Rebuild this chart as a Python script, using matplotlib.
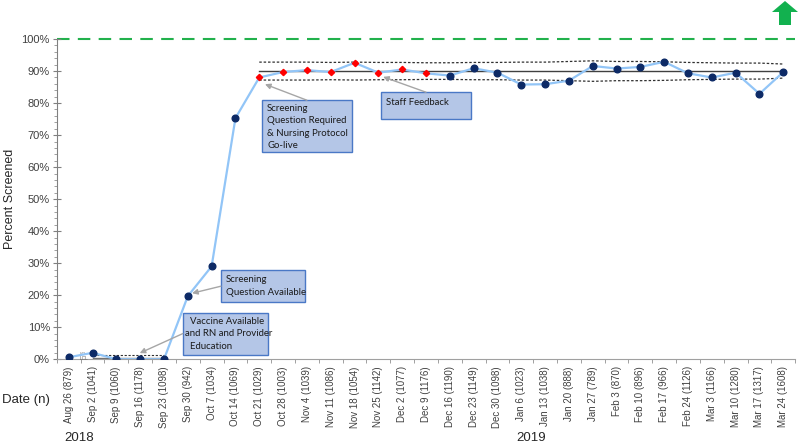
import numpy as np
import matplotlib
matplotlib.use("Agg")
import matplotlib.pyplot as plt
from matplotlib.patches import Rectangle, Polygon
from matplotlib.transforms import blended_transform_factory

plt.rcParams['font.family'] = ['Liberation Sans', 'DejaVu Sans']

# data
dates = ['Aug 26', 'Sep 2', 'Sep 9', 'Sep 16', 'Sep 23', 'Sep 30', 'Oct 7', 'Oct 14',
         'Oct 21', 'Oct 28', 'Nov 4', 'Nov 11', 'Nov 18', 'Nov 25', 'Dec 2', 'Dec 9',
         'Dec 16', 'Dec 23', 'Dec 30', 'Jan 6', 'Jan 13', 'Jan 20', 'Jan 27', 'Feb 3',
         'Feb 10', 'Feb 17', 'Feb 24', 'Mar 3', 'Mar 10', 'Mar 17', 'Mar 24']
n_counts = [879, 1041, 1060, 1178, 1098, 942, 1034, 1069, 1029, 1003, 1039, 1086, 1054,
            1142, 1077, 1176, 1190, 1149, 1098, 1023, 1038, 888, 789, 870, 896, 966,
            1126, 1166, 1280, 1317, 1608]
pct = [0.6, 2.0, 0.0, 0.0, 0.0, 19.7, 29.0, 75.3, 88.0, 89.7, 90.3, 89.7, 92.6, 89.5,
       90.5, 89.3, 88.6, 90.9, 89.5, 85.8, 85.9, 87.0, 91.6, 90.8, 91.3, 92.9, 89.3,
       88.0, 89.5, 82.9, 89.7]
red_idx = [8, 9, 10, 11, 12, 13, 14, 15]

# control limits, phase 2 (Oct 21 -> Mar 24)
cl2 = 90.0
ucl2 = [92.8, 92.8, 92.8, 92.7, 92.8, 92.7, 92.7, 92.6, 92.6, 92.7, 92.7, 92.8, 92.8,
        93.0, 93.2, 93.0, 93.0, 92.9, 92.7, 92.6, 92.5, 92.5, 92.2]
lcl2 = [87.2, 87.2, 87.2, 87.3, 87.2, 87.3, 87.3, 87.4, 87.4, 87.3, 87.3, 87.2, 87.2,
        87.0, 86.8, 87.0, 87.0, 87.1, 87.3, 87.4, 87.5, 87.5, 87.8]
# baseline phase (Sep 2 -> Sep 23)
cl1, ucl1, lcl1 = 0.5, 1.3, 0.0

labels = ['%s (%d)' % (d, n) for d, n in zip(dates, n_counts)]
x = np.arange(len(dates))

fig = plt.figure(figsize=(8, 4.44), dpi=100)
ax = fig.add_axes([0.071, 0.191, 0.923, 0.721])

ax.axhline(100, color='#22b14c', lw=1.5, ls=(0, (6, 4)), zorder=1, clip_on=False)

x2 = x[8:]
ax.plot(x2, [cl2] * len(x2), color='#404040', lw=1.0, zorder=2)
ax.plot(x2, ucl2, color='#303030', lw=0.9, ls=(0, (2, 1.5)), zorder=2)
ax.plot(x2, lcl2, color='#303030', lw=0.9, ls=(0, (2, 1.5)), zorder=2)

x1 = x[1:5]
ax.plot(x1, [cl1] * len(x1), color='#707070', lw=1.0, zorder=2)
ax.plot(x1, [ucl1] * len(x1), color='#303030', lw=0.8, ls=(0, (2, 1.5)), zorder=2)
ax.plot(x1, [lcl1] * len(x1), color='#909090', lw=0.8, ls=(0, (2, 1.5)), zorder=2)
ax.text(0.45, ucl1 + 0.3, 'UCL', fontsize=2.5, color='#606060', va='center')
ax.text(0.45, 0.3, 'LCL', fontsize=3.5, color='#606060', va='center')

ax.plot(x, pct, color='#92c5f7', lw=1.6, zorder=3)
blue = [i for i in x if i not in red_idx]
ax.plot(x[blue], np.array(pct)[blue], 'o', color='#0d2a66', ms=4.8, zorder=4)
ax.plot(x[red_idx], np.array(pct)[red_idx], 'D', color='#ff0000', ms=3.2, zorder=4)

ax.set_xlim(-0.5, len(x) - 0.5)
ax.set_ylim(0, 100)
ax.set_yticks(np.arange(0, 101, 10))
ax.set_yticklabels(['%d%%' % v for v in range(0, 101, 10)])
ax.set_yticks(np.arange(0, 101, 2), minor=True)
ax.tick_params(axis='y', which='major', direction='inout', length=6, width=0.8,
               color='#808080', labelsize=8, labelcolor='#404040', pad=2)
ax.tick_params(axis='y', which='minor', direction='out', length=2.5, width=0.6,
               color='#909090')

ax.set_xticks(x)
ax.set_xticklabels(labels, rotation=90, fontsize=7, color='#404040')
ax.set_xticks(np.arange(-0.5, len(x), 1), minor=True)
ax.tick_params(axis='x', which='major', length=0, pad=5)
ax.tick_params(axis='x', which='minor', direction='out', length=3, width=0.6,
               color='#909090')

for s in ['top', 'right']:
    ax.spines[s].set_visible(False)
ax.spines['left'].set_color('#808080')
ax.spines['bottom'].set_color('#a0a0a0')

fig.text(0.012, 0.552, 'Percent Screened', rotation=90, ha='center', va='center',
         fontsize=9, color='#262626')
fig.text(0.003, 0.099, 'Date (n)', ha='left', va='center', fontsize=9.5, color='#262626')
tr = blended_transform_factory(ax.transData, fig.transFigure)
ax.text(0.45, 0.014, '2018', transform=tr, ha='center', va='center', fontsize=9.5,
        color='#262626')
ax.text(19.4, 0.014, '2019', transform=tr, ha='center', va='center', fontsize=9.5,
        color='#262626')

# annotation boxes: (x0, x1, y0, y1) in data units, text, text anchor, arrow start, arrow tip
notes = [
    ((4.79, 8.36, 1.25, 14.4), '  Vaccine Available\nand RN and Provider\n  Education',
     (4.9, 7.9), (4.79, 8.0), (2.98, 1.9)),
    ((6.39, 9.92, 17.8, 27.8), 'Screening\nQuestion Available',
     (6.6, 22.8), (6.39, 22.8), (5.18, 20.6)),
    ((8.11, 11.89, 64.7, 80.9), 'Screening\nQuestion Required\n& Nursing Protocol\nGo-live',
     (8.33, 72.6), (10.0, 80.9), (8.24, 85.9)),
    ((13.11, 16.89, 75.0, 83.4), 'Staff Feedback',
     (13.33, 80.3), (15.0, 83.4), (13.2, 88.2)),
]
for (bx0, bx1, by0, by1), txt, tpos, astart, atip in notes:
    ax.add_patch(Rectangle((bx0, by0), bx1 - bx0, by1 - by0, facecolor='#b4c6e7',
                           edgecolor='#4a78c6', lw=1.0, zorder=5))
    ax.text(tpos[0], tpos[1], txt, ha='left', va='center', fontsize=6.9,
            family=['Lato', 'DejaVu Sans'], color='#1a1a1a', linespacing=1.5, zorder=6)
    ax.annotate('', xy=atip, xytext=astart,
                arrowprops=dict(arrowstyle='-|>', color='#a6a6a6', lw=1.0,
                                mutation_scale=8, shrinkA=0, shrinkB=0), zorder=5)

# green up-arrow icon in top right corner
W, H = 800.0, 444.0
pts = [(772, 12), (785, 1), (798, 12), (791, 12), (791, 25), (779, 25), (779, 12)]
fig.add_artist(Polygon([(px / W, 1 - py / H) for px, py in pts], closed=True,
                       transform=fig.transFigure, facecolor='#12b14f', edgecolor='none'))

fig.savefig('out.png', dpi=100)
